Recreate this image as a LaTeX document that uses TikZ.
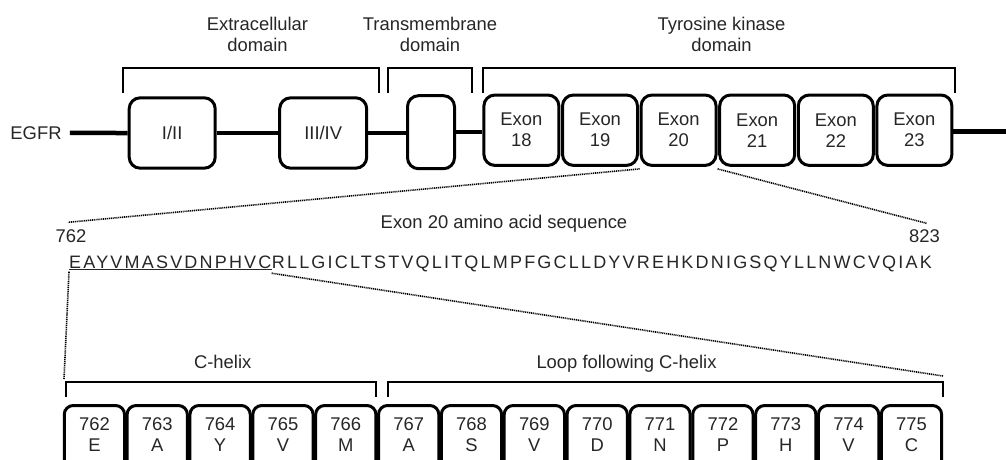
\documentclass[tikz,border=0pt]{standalone}
\usepackage{fontspec}
\setmainfont{Liberation Sans}
\begin{document}
\begin{tikzpicture}[x=1pt,y=-1pt,
  txt/.style={font=\fontsize{18.4}{21}\selectfont, text=black!85, inner sep=0pt, align=center},
  seqtxt/.style={txt, font=\fontsize{18}{21}\selectfont\addfontfeature{LetterSpace=12.2}},
  dom/.style={draw, line width=3pt, rounded corners=11pt, txt, minimum height=70.4pt},
  res/.style={draw, line width=3pt, rounded corners=9pt, minimum width=60.3pt, minimum height=80pt, inner sep=0pt},
  mainline/.style={line width=4.5pt},
  bb/.style={line width=2pt},
  dots/.style={line width=1.6pt, dash pattern=on 1.1pt off 0.8pt}
]
\clip (0,0) rectangle (1006,459);
% top row
\node[txt, anchor=base] (egfr) at (36,139.3) {EGFR};
\node[dom, minimum width=86pt] (d12) at (172.2,133) {I/II};
\node[dom, minimum width=87pt] (d34) at (323.2,133) {III/IV};
\node[dom, minimum width=47pt, minimum height=73pt] (tm) at (431,132.2) {};
\foreach \n [count=\i from 0] in {18,19,20,21,22,23}
  \node[dom, minimum width=75pt] (ex\n) at (521.4+\i*78.6,130.2) {Exon\\\n};
\coordinate (rend) at (1012,131.7);
\draw[mainline] ([xshift=8pt]egfr.east) -- (d12.west);
\draw[mainline] (d12.east) -- (d34.west);
\draw[mainline] (d34.east) -- (d34.east -| tm.west);
\draw[mainline] (tm.east) -- (tm.east -| ex18.west);
\draw[mainline] (ex23.east |- rend) -- (rend);
% top brackets
\draw[bb] (123,93) -- (123,67.7) -- (379,67.7) -- (379,93);
\draw[bb] (387.7,93) -- (387.7,67.7) -- (472,67.7) -- (472,93);
\draw[bb] (483,93) -- (483,67.7) -- (955,67.7) -- (955,93);
\node[txt] (lext) at (257.5,34.5) {Extracellular\\domain};
\node[txt] (ltm) at (430,34.5) {Transmembrane\\domain};
\node[txt] (ltk) at (721.5,34.5) {Tyrosine kinase\\domain};
% sequence
\node[txt, anchor=base] (seqtitle) at (504,228.3) {Exon 20 amino acid sequence};
\node[txt, anchor=base] (n762) at (71,242.3) {762};
\node[txt, anchor=base] (n823) at (924.5,242) {823};
\node[seqtxt, anchor=base west] (seqA) at (69,268.7) {EAYVMASVDNPHVC};
\node[seqtxt, anchor=base west] (seqB) at (seqA.base east) {RLLGICLTSTVQLITQLMPFGCLLDYVREHKDNIGSQYLLNWCVQIAK};
\draw[line width=1pt, black!85] ([yshift=-1pt]seqA.base west) -- ([yshift=-1pt]seqA.base east);
\coordinate (c1) at (68,222.3);
\coordinate (c2) at (926.7,223.3);
\coordinate (c3) at (64,379);
\coordinate (c4) at (943,376);
\draw[dots] ([yshift=-2pt]ex20.south west) -- (c1);
\draw[dots] ([yshift=-2pt]ex20.south east) -- (c2);
\draw[dots] ([yshift=-3pt]seqA.base west) -- (c3);
\draw[dots] ([yshift=-4.5pt]seqA.base east) -- (c4);
% bottom brackets
\draw[bb] (66,396.7) -- (66,381.7) -- (376,381.7) -- (376,396.7);
\draw[bb] (388,396.7) -- (388,381.7) -- (942.7,381.7) -- (942.7,396.7);
\node[txt, anchor=base] (lch) at (222.7,368.3) {C-helix};
\node[txt, anchor=base] (lloop) at (626.5,368.3) {Loop following C-helix};
% residues
\foreach \num/\aa [count=\i from 0] in {762/E,763/A,764/Y,765/V,766/M,767/A,768/S,769/V,770/D,771/N,772/P,773/H,774/V,775/C} {
  \node[res] (r\num) at (94.4+\i*62.85,445.5) {};
  \node[txt] (t\num) at (94.4+\i*62.85,435) {\num\\\aa};
}
\end{tikzpicture}
\end{document}
